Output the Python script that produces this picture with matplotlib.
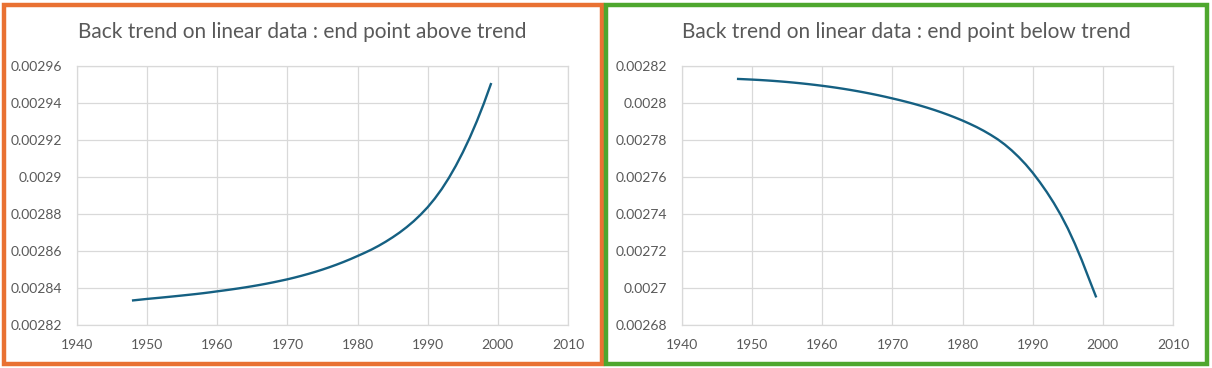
import matplotlib
matplotlib.use("Agg")
import matplotlib.pyplot as plt
from matplotlib.patches import Rectangle
from matplotlib.ticker import FuncFormatter, MultipleLocator

years = list(range(1948, 2000))

above_trend = [
    0.0028333, 0.0028337, 0.0028341, 0.00283445, 0.00283481, 0.00283518,
    0.00283556, 0.00283595, 0.00283635, 0.00283676, 0.0028372, 0.00283768,
    0.0028382, 0.0028387, 0.00283922, 0.00283977, 0.00284035, 0.00284097,
    0.00284163, 0.00284233, 0.00284308, 0.00284388, 0.0028447, 0.00284562,
    0.0028466, 0.00284765, 0.00284877, 0.00284997, 0.00285125, 0.00285262,
    0.00285408, 0.00285564, 0.0028573, 0.002859, 0.0028608, 0.0028628,
    0.002865, 0.0028674, 0.00287, 0.0028729, 0.0028761, 0.0028797,
    0.0028837, 0.0028883, 0.0028935, 0.0028994, 0.002906, 0.0029133,
    0.0029213, 0.0029301, 0.0029397, 0.0029502,
]

below_trend = [
    0.002813, 0.00281283, 0.00281265, 0.00281245, 0.00281222, 0.00281196,
    0.00281167, 0.00281135, 0.002811, 0.00281062, 0.00281021, 0.00280977,
    0.0028093, 0.0028088, 0.00280826, 0.00280768, 0.00280706, 0.0028064,
    0.0028057, 0.00280496, 0.00280418, 0.00280335, 0.00280247, 0.00280157,
    0.00280062, 0.00279962, 0.00279855, 0.00279741, 0.0027962, 0.00279491,
    0.00279353, 0.00279206, 0.0027905, 0.0027888, 0.002787, 0.002785,
    0.0027828, 0.0027804, 0.0027776, 0.0027744, 0.0027708, 0.0027668,
    0.0027623, 0.0027573, 0.0027519, 0.002746, 0.0027395, 0.0027322,
    0.002724, 0.002715, 0.0027052, 0.0026955,
]

titles = ["Back trend on linear data : end point above trend",
          "Back trend on linear data : end point below trend"]
y_limits = [(0.00282, 0.00296), (0.00268, 0.00282)]

W, H = 1212, 368
fig = plt.figure(figsize=(W / 100, H / 100), dpi=100)
fig.patch.set_facecolor("white")

text_col = "#595959"
grid_col = "#d9d9d9"
line_col = "#156082"
font = "Lato"

# panel frames
frames = [(3.5, 4.5, 598.5, 359, "#E97132"), (605.5, 4.5, 601, 359, "#4EA72E")]
for x, y, w, h, c in frames:
    fig.patches.append(Rectangle((x / W, 1 - (y + h) / H), w / W, h / H,
                                 transform=fig.transFigure, fill=False,
                                 edgecolor=c, linewidth=3.2))

axes_left = [77, 682]
title_x = [302, 906]
series = [above_trend, below_trend]

for i in range(2):
    ax = fig.add_axes([axes_left[i] / W, 43 / H, 491 / W, 259 / H])
    ax.plot(years, series[i], color=line_col, linewidth=1.7)
    ax.set_xlim(1940, 2010)
    ax.set_ylim(*y_limits[i])
    ax.xaxis.set_major_locator(MultipleLocator(10))
    ax.yaxis.set_major_locator(MultipleLocator(0.00002))
    ax.yaxis.set_major_formatter(FuncFormatter(lambda v, p: "%g" % round(v, 6)))
    ax.grid(True, color=grid_col, linewidth=0.9)
    ax.set_axisbelow(True)
    for s in ax.spines.values():
        s.set_color(grid_col)
        s.set_linewidth(0.9)
    ax.tick_params(length=0, labelsize=10, labelcolor=text_col, pad=10)
    ax.tick_params(axis="y", pad=11)
    for lab in ax.get_xticklabels() + ax.get_yticklabels():
        lab.set_fontfamily(font)
    fig.text(title_x[i] / W, 1 - 32 / H, titles[i], ha="center", va="center",
             fontsize=15, color=text_col, fontfamily=font)

fig.savefig("out.png", dpi=100)
